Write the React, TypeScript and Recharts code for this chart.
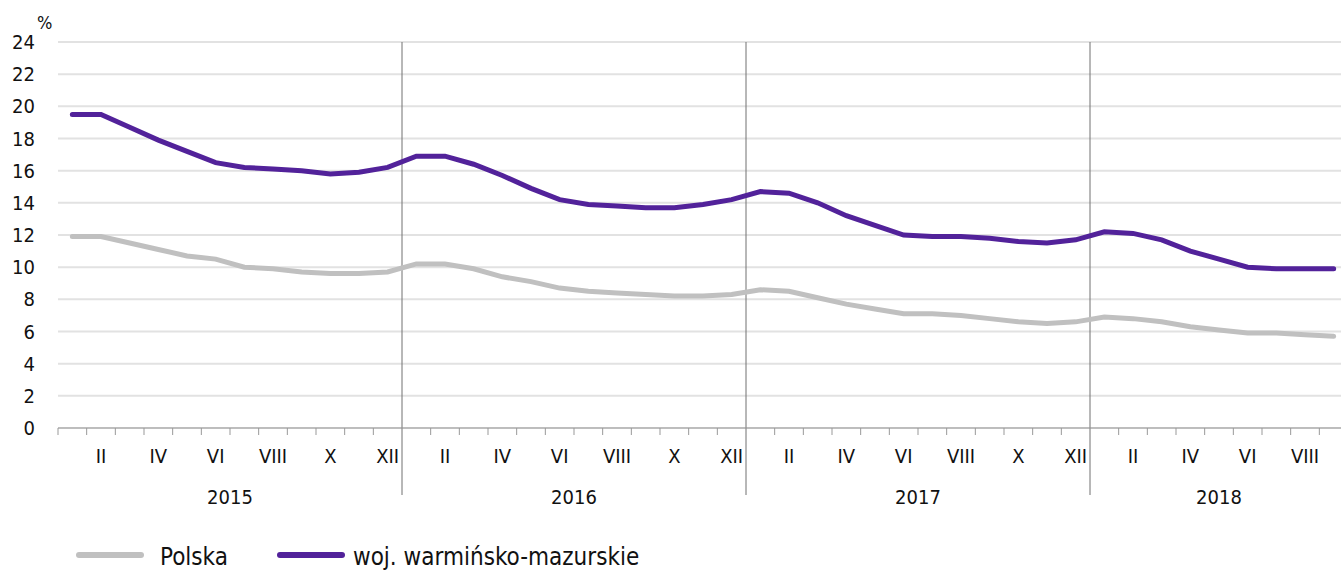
import { CartesianGrid, Legend, Line, LineChart, ReferenceLine, XAxis, YAxis } from "recharts";

const years = [2015, 2016, 2017, 2018];
const monthsPerYear = [12, 12, 12, 9];
const roman = ["I", "II", "III", "IV", "V", "VI", "VII", "VIII", "IX", "X", "XI", "XII"];

const polska = [
  11.9, 11.9, 11.5, 11.1, 10.7, 10.5, 10.0, 9.9, 9.7, 9.6, 9.6, 9.7,
  10.2, 10.2, 9.9, 9.4, 9.1, 8.7, 8.5, 8.4, 8.3, 8.2, 8.2, 8.3,
  8.6, 8.5, 8.1, 7.7, 7.4, 7.1, 7.1, 7.0, 6.8, 6.6, 6.5, 6.6,
  6.9, 6.8, 6.6, 6.3, 6.1, 5.9, 5.9, 5.8, 5.7,
];
const warmMaz = [
  19.5, 19.5, 18.7, 17.9, 17.2, 16.5, 16.2, 16.1, 16.0, 15.8, 15.9, 16.2,
  16.9, 16.9, 16.4, 15.7, 14.9, 14.2, 13.9, 13.8, 13.7, 13.7, 13.9, 14.2,
  14.7, 14.6, 14.0, 13.2, 12.6, 12.0, 11.9, 11.9, 11.8, 11.6, 11.5, 11.7,
  12.2, 12.1, 11.7, 11.0, 10.5, 10.0, 9.9, 9.9, 9.9,
];
const yTicks = [0, 2, 4, 6, 8, 10, 12, 14, 16, 18, 20, 22, 24];

const seriesNames = { polska: "Polska", warm: "woj. warmińsko-mazurskie" };
const colors = { polska: "#c0c0c0", warm: "#52229a" };

const FONT = "'DejaVu Sans Condensed', 'DejaVu Sans', sans-serif";

const total = polska.length;
const data = polska.map((p, i) => ({ x: i + 0.5, polska: p, warm: warmMaz[i] }));

// year boundaries and centres (in month units)
const yearStarts: number[] = [];
const yearCenters: number[] = [];
{
  let acc = 0;
  monthsPerYear.forEach((n) => {
    yearStarts.push(acc);
    yearCenters.push(acc + n / 2);
    acc += n;
  });
}
const separators = yearStarts.slice(1);

// ticks every half month: integers carry tick marks, halves carry labels
const xTicks: number[] = [];
for (let v = 0; v <= total * 2; v++) xTicks.push(v / 2);

function XTick(props: any) {
  const { x, y, payload } = props;
  const v: number = payload.value;
  const items: any[] = [];
  if (Number.isInteger(v) && !separators.includes(v)) {
    items.push(<line key="t" x1={x} x2={x} y1={y} y2={y + 7} stroke="#999" strokeWidth={1} />);
  }
  if (!Number.isInteger(v)) {
    const m = Math.floor(v) % 12;
    if (m % 2 === 1) {
      items.push(
        <text key="m" x={x} y={y + 28} textAnchor="middle" dominantBaseline="central" fontSize={20} fill="#111" fontFamily={FONT}>
          {roman[m]}
        </text>
      );
    }
  }
  const yi = yearCenters.indexOf(v);
  if (yi >= 0) {
    items.push(
      <text key="y" x={x} y={y + 69} textAnchor="middle" dominantBaseline="central" fontSize={20} fill="#111" fontFamily={FONT}>
        {years[yi]}
      </text>
    );
  }
  return <g>{items}</g>;
}

function Separator(props: any) {
  const { x1, y1, x2, y2 } = props;
  const top = Math.min(y1, y2);
  const bottom = Math.max(y1, y2) + 67;
  return <line x1={x1} x2={x2} y1={top} y2={bottom} stroke="#707070" strokeWidth={1} />;
}

function LegendContent() {
  const items = [
    { key: "polska", swatchLeft: 77, textLeft: 160 },
    { key: "warm", swatchLeft: 278, textLeft: 353 },
  ] as const;
  return (
    <div style={{ position: "relative", height: 40, width: 1341 }}>
      {items.map((it) => (
        <div key={it.key}>
          <svg width={70} height={10} style={{ position: "absolute", left: it.swatchLeft - 2, top: 20 }}>
            <line x1={4} x2={66} y1={5} y2={5} stroke={colors[it.key]} strokeWidth={6} strokeLinecap="round" />
          </svg>
          <span
            style={{
              position: "absolute",
              left: it.textLeft,
              top: 12,
              fontSize: 24,
              lineHeight: "30px",
              fontFamily: FONT,
              color: "#111",
              whiteSpace: "nowrap",
            }}
          >
            {seriesNames[it.key]}
          </span>
        </div>
      ))}
    </div>
  );
}

export default function App() {
  return (
    <div style={{ position: "absolute", left: 0, top: 0, width: 1341, height: 570, overflow: "hidden", background: "#fff" }}>
      <span style={{ position: "absolute", left: 37, top: 12, fontSize: 18, fontFamily: FONT, color: "#111" }}>%</span>
      <LineChart width={1348} height={570} data={data} margin={{ top: 42, right: 0, bottom: 0, left: 0 }}>
        <CartesianGrid vertical={false} stroke="#e2e2e2" strokeWidth={2} />
        <XAxis
          dataKey="x"
          type="number"
          domain={[0, total]}
          ticks={xTicks}
          interval={0}
          tick={<XTick />}
          tickLine={false}
          tickSize={0}
          tickMargin={0}
          height={102}
          axisLine={{ stroke: "#999", strokeWidth: 1 }}
        />
        <YAxis
          width={58}
          domain={[0, 24]}
          ticks={yTicks}
          interval={0}
          tickLine={false}
          axisLine={false}
          tickSize={0}
          tickMargin={23}
          tick={{ fontSize: 20, fill: "#111", fontFamily: FONT }}
        />
        {separators.map((s) => (
          <ReferenceLine key={s} x={s} shape={<Separator />} />
        ))}
        <Legend verticalAlign="bottom" align="left" height={40} content={<LegendContent />} wrapperStyle={{ left: 0, bottom: 0 }} />
        <Line
          type="linear"
          dataKey="polska"
          stroke={colors.polska}
          strokeWidth={5}
          strokeLinecap="round"
          dot={false}
          activeDot={false}
          isAnimationActive={false}
        />
        <Line
          type="linear"
          dataKey="warm"
          stroke={colors.warm}
          strokeWidth={5}
          strokeLinecap="round"
          dot={false}
          activeDot={false}
          isAnimationActive={false}
        />
      </LineChart>
    </div>
  );
}
